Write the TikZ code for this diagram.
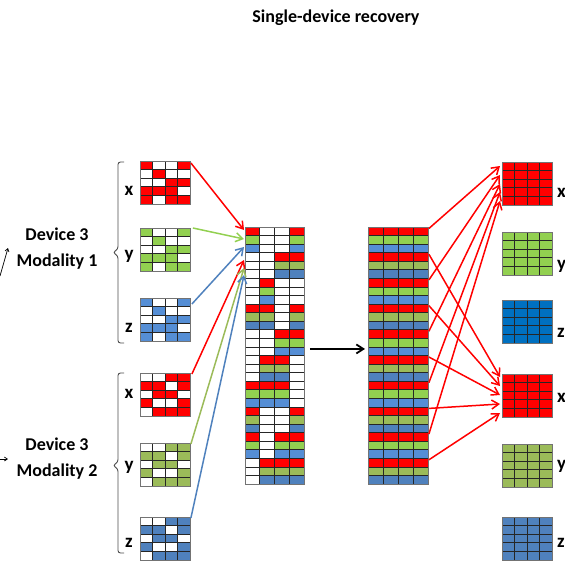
\documentclass[tikz,border=0pt]{standalone}
\usepackage{fontspec}
\setmainfont{Carlito}
\usetikzlibrary{arrows.meta,calc}
\definecolor{cR}{HTML}{FF0000}
\definecolor{cGa}{HTML}{92D050}
\definecolor{cBa}{HTML}{558ED5}
\definecolor{cGb}{HTML}{9BBB59}
\definecolor{cBb}{HTML}{4F81BD}
\definecolor{cBc}{HTML}{0070C0}
\newcommand\drawrow[6]{%
  \foreach \cc [count=\jj from 0] in #6 {%
    \ifnum\cc=1 \def\fc{#5}\else\def\fc{white}\fi
    \draw[cellline, fill=\fc] ({#1+\jj*#3},{#2}) rectangle ++(#3,#4);
  }%
}
\newcommand\drawgrid[6]{%
  \foreach \rr [count=\ii from 0] in {#6} {%
    \pgfmathsetmacro\yrow{#2+\ii*#4}%
    \drawrow{#1}{\yrow}{#3}{#4}{#5}{\rr}%
  }%
}
\tikzset{
  cellline/.style={draw=black!85, line width=0.7pt},
  gridbox/.style={draw=black!55, line width=0.9pt, inner sep=0pt, anchor=north west, fill=none},
  lbl/.style={font=\fontsize{19}{22}\selectfont\bfseries, inner sep=0pt, anchor=base},
  devlbl/.style={font=\fontsize{18}{26}\selectfont\bfseries, align=center, inner sep=0pt},
  bracestyle/.style={draw=black!70, line width=0.9pt, rounded corners=2.5pt},
  conn/.style={line width=1.5pt, -{Straight Barb[length=7pt,width=9pt]}},
  thinarrow/.style={line width=0.7pt, -{Straight Barb[length=3pt,width=4pt]}},
}
\begin{document}
\begin{tikzpicture}[x=1pt,y=-1pt]
\useasboundingbox (0,0) rectangle (565,560);

% title
\node[font=\fontsize{18}{22}\selectfont\bfseries, inner sep=0pt] (title) at (336,18) {Single-device recovery};

% device labels
\node[devlbl] (dev1) at (57,249) {Device 3\\Modality 1};
\node[devlbl] (dev2) at (57,459) {Device 3\\Modality 2};
\coordinate (la1s) at (0,276); \coordinate (la1e) at (8,248);
\coordinate (la2s) at (0,459); \coordinate (la2e) at (8,459);
\draw[thinarrow] (la1s) -- (la1e);
\draw[thinarrow] (la2s) -- (la2e);

% braces
\draw[bracestyle] (124,162) -- (118,162) -- (118,249) -- (113,252.5) -- (118,256) -- (118,343) -- (124,343);
\draw[bracestyle] (124,373) -- (118,373) -- (118,462) -- (113,465.5) -- (118,469) -- (118,553) -- (124,553);

% left labels
\node[lbl] (lx1) at (129,195) {x};
\node[lbl] (ly1) at (129,259) {y};
\node[lbl] (lz1) at (129,332) {z};
\node[lbl] (lx2) at (129,398) {x};
\node[lbl] (ly2) at (129,470) {y};
\node[lbl] (lz2) at (129,547) {z};

% left grids
\drawgrid{140}{161}{12.5}{8.6}{cR}{{1,0,0,1},{0,1,0,0},{0,0,1,1},{1,1,1,0},{1,0,1,1}}
\drawgrid{140}{228}{12.5}{8.6}{cGa}{{1,0,0,1},{0,1,0,0},{0,0,1,1},{1,1,1,0},{1,0,1,1}}
\drawgrid{140}{298}{12.5}{8.6}{cBa}{{1,0,0,1},{0,1,0,0},{0,0,1,1},{1,1,1,0},{1,0,1,1}}
\drawgrid{140}{373}{12.5}{8.6}{cR}{{0,0,1,1},{1,1,0,1},{0,1,1,0},{1,0,0,1},{0,1,1,1}}
\drawgrid{140}{443}{12.5}{8.6}{cGb}{{0,0,1,1},{1,1,0,1},{0,1,1,0},{1,0,0,1},{0,1,1,1}}
\drawgrid{140}{517}{12.5}{8.6}{cBb}{{0,0,1,1},{1,1,0,1},{0,1,1,0},{1,0,0,1},{0,1,1,1}}
\node[gridbox, minimum width=50pt, minimum height=43pt] (gx1) at (140,161) {};
\node[gridbox, minimum width=50pt, minimum height=43pt] (gy1) at (140,228) {};
\node[gridbox, minimum width=50pt, minimum height=43pt] (gz1) at (140,298) {};
\node[gridbox, minimum width=50pt, minimum height=43pt] (gx2) at (140,373) {};
\node[gridbox, minimum width=50pt, minimum height=43pt] (gy2) at (140,443) {};
\node[gridbox, minimum width=50pt, minimum height=43pt] (gz2) at (140,517) {};

% middle column (interleaved) and recovered column
\foreach \pat [count=\k from 0] in {{1,0,0,1},{0,0,1,1},{0,1,0,0},{1,1,0,1},{0,0,1,1},{0,1,1,0},{1,1,1,0},{1,0,0,1},{1,0,1,1},{0,1,1,1}} {
  \ifodd\k \def\cg{cGb}\def\cb{cBb}\else\def\cg{cGa}\def\cb{cBa}\fi
  \pgfmathsetmacro\ya{227+3*\k*8.5667}
  \pgfmathsetmacro\yb{227+(3*\k+1)*8.5667}
  \pgfmathsetmacro\yc{227+(3*\k+2)*8.5667}
  \drawrow{245}{\ya}{14.75}{8.5667}{cR}{\pat}
  \drawrow{245}{\yb}{14.75}{8.5667}{\cg}{\pat}
  \drawrow{245}{\yc}{14.75}{8.5667}{\cb}{\pat}
  \drawrow{368}{\ya}{15}{8.5667}{cR}{{1,1,1,1}}
  \drawrow{368}{\yb}{15}{8.5667}{\cg}{{1,1,1,1}}
  \drawrow{368}{\yc}{15}{8.5667}{\cb}{{1,1,1,1}}
}
\node[gridbox, minimum width=59pt, minimum height=257pt] (mid) at (245,227) {};
\node[gridbox, minimum width=60pt, minimum height=257pt] (rec) at (368,227) {};

% right grids
\drawgrid{502}{162}{12.5}{8.6}{cR}{{1,1,1,1},{1,1,1,1},{1,1,1,1},{1,1,1,1},{1,1,1,1}}
\drawgrid{502}{232}{12.5}{8.6}{cGa}{{1,1,1,1},{1,1,1,1},{1,1,1,1},{1,1,1,1},{1,1,1,1}}
\drawgrid{502}{300}{12.5}{8.6}{cBc}{{1,1,1,1},{1,1,1,1},{1,1,1,1},{1,1,1,1},{1,1,1,1}}
\drawgrid{502}{374}{12.5}{8.6}{cR}{{1,1,1,1},{1,1,1,1},{1,1,1,1},{1,1,1,1},{1,1,1,1}}
\drawgrid{502}{444}{12.5}{8.6}{cGb}{{1,1,1,1},{1,1,1,1},{1,1,1,1},{1,1,1,1},{1,1,1,1}}
\drawgrid{502}{517}{12.5}{8.6}{cBb}{{1,1,1,1},{1,1,1,1},{1,1,1,1},{1,1,1,1},{1,1,1,1}}
\node[gridbox, minimum width=50pt, minimum height=43pt] (rx1) at (502,162) {};
\node[gridbox, minimum width=50pt, minimum height=43pt] (ry1) at (502,232) {};
\node[gridbox, minimum width=50pt, minimum height=43pt] (rz1) at (502,300) {};
\node[gridbox, minimum width=50pt, minimum height=43pt] (rx2) at (502,374) {};
\node[gridbox, minimum width=50pt, minimum height=43pt] (ry2) at (502,444) {};
\node[gridbox, minimum width=50pt, minimum height=43pt] (rz2) at (502,517) {};

% right labels
\node[lbl, anchor=base west] (tx1) at (557,197) {x};
\node[lbl, anchor=base west] (ty1) at (557,269) {y};
\node[lbl, anchor=base west] (tz1) at (557,337) {z};
\node[lbl, anchor=base west] (tx2) at (557,402) {x};
\node[lbl, anchor=base west] (ty2) at (557,469) {y};
\node[lbl, anchor=base west] (tz2) at (557,547) {z};

% arrows into the middle column
\coordinate (in1) at (244,230);
\coordinate (in2) at (244,239);
\coordinate (in3) at (244,247);
\coordinate (in4) at (244,260);
\coordinate (in5) at (244,268);
\coordinate (in6) at (244,275);
\draw[conn, cR]  ($(gx1.north east)+(0,2)$) -- (in1);
\draw[conn, cGa] ($(gy1.north east)+(2,0)$) -- (in2);
\draw[conn, cBb] ($(gz1.north east)+(1,6)$) -- (in3);
\draw[conn, cR]  ($(gx2.north east)+(1,1)$) -- (in4);
\draw[conn, cGb] ($(gy2.north east)+(0,1)$) -- (in5);
\draw[conn, cBb] ($(gz2.north east)+(0,1)$) -- (in6);

% black arrow
\draw[conn, black, line width=1.8pt] ($(mid.east)+(5,-7)$) -- ($(rec.west)+(-3,-7)$);

% arrows to recovered grids
\foreach \g/\t in {0/166, 2/175, 4/184, 6/192, 8/201, 1/377, 3/386, 5/395, 7/404, 9/413} {
  \pgfmathsetmacro\ys{3*\g*8.5667+1.5}
  \draw[conn, cR] ($(rec.north east)+(0,\ys)$) -- (500,\t);
}
\end{tikzpicture}
\end{document}
